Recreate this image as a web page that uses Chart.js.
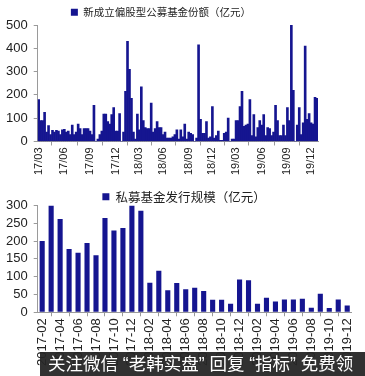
<!DOCTYPE html>
<html>
<head>
<meta charset="utf-8">
<script src="https://cdn.jsdelivr.net/npm/chart.js@4.4.1/dist/chart.umd.min.js"></script>
<style>
  html, body { margin: 0; padding: 0; background: #fff; overflow: hidden; }
  #wrap { position: relative; width: 365px; height: 376px; }
  #c1box { position: absolute; left: 0; top: 0; width: 365px; height: 177px; }
  #c2box { position: absolute; left: 0; top: 189px; width: 365px; height: 179px; }
  #banner {
    position: absolute; left: 40px; top: 352px; width: 325px; height: 24px;
    background: rgba(38, 38, 38, 0.95); color: #fff;
    font-family: "Liberation Sans", "Noto Sans CJK SC", sans-serif; font-size: 17.5px; line-height: 24px;
    padding-left: 8px; box-sizing: border-box; white-space: nowrap; overflow: hidden;
  }
</style>
</head>
<body>
<div id="wrap">
  <div id="c1box"><canvas id="fundChart"></canvas></div>
  <div id="c2box"><canvas id="privChart"></canvas></div>
  <div id="banner">关注微信 “老韩实盘” 回复 “指标” 免费领</div>
</div>
<script>
// 新成立偏股型公募基金份额（亿元）, weekly, 2017/03 - 2019/12
const fundValues = [
  180, 90, 90, 125, 40, 68, 30, 48, 40, 48,
  45, 30, 50, 52, 40, 45, 30, 70, 30, 40,
  75, 55, 30, 55, 55, 55, 45, 30, 155, 0,
  10, 30, 45, 118, 118, 85, 75, 115, 145, 45,
  45, 120, 0, 40, 215, 430, 310, 185, 40, 10,
  118, 50, 235, 90, 60, 55, 55, 165, 40, 55,
  85, 60, 60, 30, 40, 15, 15, 15, 20, 30,
  50, 10, 50, 20, 75, 10, 40, 35, 30, 0,
  15, 415, 95, 35, 35, 85, 15, 20, 150, 15,
  25, 45, 5, 5, 35, 40, 100, 0, 10, 10,
  90, 90, 150, 215, 65, 70, 75, 180, 25, 115,
  20, 60, 90, 70, 115, 25, 60, 55, 25, 40,
  155, 90, 25, 25, 70, 25, 145, 90, 500, 220,
  0, 70, 145, 30, 80, 410, 95, 120, 80, 75,
  190, 185
];
const fundTickLabels = ['17/03', '17/06', '17/09', '17/12', '18/03', '18/06', '18/09', '18/12', '19/03', '19/06', '19/09', '19/12'];
const fundTickIndex = [0, 13, 26, 39, 51, 63, 76, 88, 100, 113, 126, 138];
const fundYTicks = [0, 100, 200, 300, 400, 500];

// 私募基金发行规模（亿元）, monthly
const privMonths = [
  '2017-02', '2017-03', '2017-04', '2017-05', '2017-06', '2017-07', '2017-08', '2017-09', '2017-10', '2017-11', '2017-12',
  '2018-01', '2018-02', '2018-03', '2018-04', '2018-05', '2018-06', '2018-07', '2018-08', '2018-09', '2018-10', '2018-11', '2018-12',
  '2019-01', '2019-02', '2019-03', '2019-04', '2019-05', '2019-06', '2019-07', '2019-08', '2019-09', '2019-10', '2019-11', '2019-12'
];
const privValues = [
  200, 300, 262, 178, 167, 195, 160, 265, 230, 237, 300,
  285, 83, 117, 62, 82, 65, 69, 60, 35, 35, 24, 92,
  90, 24, 41, 30, 36, 36, 38, 13, 52, 12, 36, 19
];
const privYTicks = [0, 50, 100, 150, 200, 250, 300];

const barColor = '#151590';
const axisColor = '#9a9a9a';
const cjkFont = '"Noto Sans CJK SC", sans-serif';
const numFont = '"Liberation Sans", Arial, sans-serif';

// week labels: only the quarter ticks carry text
const fundLabels = fundValues.map(() => '');
fundTickIndex.forEach((idx, i) => { fundLabels[idx] = fundTickLabels[i]; });

function fixedTicks(list) {
    return (scale) => { scale.ticks = list.map(v => ({ value: v })); };
}

// nudge the legend sideways after layout
function legendShift(dx) {
    return {
        id: 'legendShift',
        afterLayout(chart) {
            chart.legend.left += dx;
            chart.legend.right += dx;
        }
    };
}

new Chart(document.getElementById('fundChart'), {
    type: 'bar',
    data: {
        labels: fundLabels,
        datasets: [{
            label: '新成立偏股型公募基金份额（亿元）',
            data: fundValues,
            backgroundColor: barColor,
            barPercentage: 1,
            categoryPercentage: 1
        }]
    },
    plugins: [legendShift(2)],
    options: {
        responsive: true,
        maintainAspectRatio: false,
        animation: false,
        layout: { autoPadding: false, padding: { left: 0, right: 47, top: 0, bottom: 0 } },
        plugins: {
            tooltip: { enabled: false },
            legend: {
                maxHeight: 25,
                labels: {
                    boxWidth: 7, boxHeight: 7, padding: 7,
                    color: '#222',
                    font: { family: cjkFont, size: 10.5 }
                }
            }
        },
        scales: {
            x: {
                grid: { drawOnChartArea: false, tickLength: 4, color: axisColor },
                border: { color: axisColor },
                ticks: {
                    autoSkip: false, maxRotation: 90, minRotation: 90, padding: 2,
                    color: '#222', font: { family: numFont, size: 11 },
                    callback: function (v) { return this.getLabelForValue(v) || null; }
                }
            },
            y: {
                min: 0, max: 500,
                afterBuildTicks: fixedTicks(fundYTicks),
                grid: { drawOnChartArea: false, tickLength: 4, color: axisColor },
                border: { color: axisColor },
                ticks: { autoSkip: false, padding: 6, color: '#222', font: { family: numFont, size: 13 } }
            }
        }
    }
});

new Chart(document.getElementById('privChart'), {
    type: 'bar',
    data: {
        labels: privMonths,
        datasets: [{
            label: '私募基金发行规模（亿元）',
            data: privValues,
            backgroundColor: barColor,
            barPercentage: 0.6,
            categoryPercentage: 0.95
        }]
    },
    plugins: [legendShift(8)],
    options: {
        responsive: true,
        maintainAspectRatio: false,
        animation: false,
        layout: { autoPadding: false, padding: { left: 0, right: 13, top: 0, bottom: 0 } },
        plugins: {
            tooltip: { enabled: false },
            legend: {
                maxHeight: 16.5,
                labels: {
                    boxWidth: 7, boxHeight: 7, padding: 1.5,
                    color: '#222',
                    font: { family: cjkFont, size: 12.5 }
                }
            }
        },
        scales: {
            x: {
                grid: { drawOnChartArea: false, tickLength: 4, color: axisColor },
                border: { color: axisColor },
                ticks: {
                    autoSkip: false, maxRotation: 90, minRotation: 90, padding: 2,
                    color: '#222', font: { family: numFont, size: 13 },
                    callback: function (v, i) { return i % 2 === 0 ? this.getLabelForValue(v) : null; }
                }
            },
            y: {
                min: 0, max: 300,
                afterBuildTicks: fixedTicks(privYTicks),
                grid: { drawOnChartArea: false, tickLength: 4, color: axisColor },
                border: { color: axisColor },
                ticks: { autoSkip: false, padding: 6, color: '#222', font: { family: numFont, size: 13 } }
            }
        }
    }
});
</script>
</body>
</html>
